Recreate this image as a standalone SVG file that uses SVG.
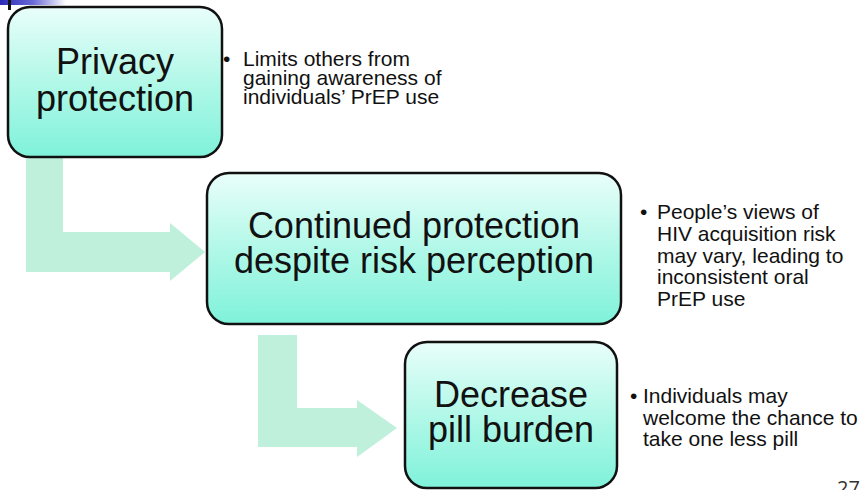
<svg xmlns="http://www.w3.org/2000/svg" width="867" height="490" viewBox="0 0 867 490">
  <defs>
    <linearGradient id="boxFill" x1="0" y1="0" x2="0" y2="1">
      <stop offset="0" stop-color="#e9fefa"/>
      <stop offset="0.5" stop-color="#b2f8e8"/>
      <stop offset="1" stop-color="#7ff2da"/>
    </linearGradient>
    <linearGradient id="cornerBar" x1="0" y1="0" x2="1" y2="0">
      <stop offset="0" stop-color="#2a2ab8"/>
      <stop offset="0.5" stop-color="#6a6ad8"/>
      <stop offset="1" stop-color="#ffffff"/>
    </linearGradient>
    <style>
      .box { fill: url(#boxFill); stroke: #111; stroke-width: 2.5; }
      .title { font-family: "Liberation Sans", Arial, sans-serif; font-size: 36px; fill: #111; text-anchor: middle; }
      .note { font-family: "Liberation Sans", Arial, sans-serif; font-size: 21px; fill: #111; }
      .flow { fill: #bff0dc; stroke: none; }
      .pageno { font-family: "Open Sans", "DejaVu Sans", sans-serif; font-size: 20px; fill: #333; }
    </style>
  </defs>

  <rect width="867" height="490" fill="#ffffff"/>

  <!-- slide corner ornament -->
  <rect x="0" y="0" width="66" height="5" fill="url(#cornerBar)"/>
  <rect x="8" y="0" width="3" height="10" fill="#111"/>

  <!-- bent flow arrows between steps -->
  <g id="connectors">
    <polygon class="flow" points="26,150 63,150 63,232 170,232 170,223 205,252 170,281 170,272 26,272"/>
    <polygon class="flow" points="258,335 297,335 297,408 357,408 357,400 397,428 357,457 357,447 258,447"/>
  </g>

  <g id="privacy">
    <rect class="box" x="8" y="7" width="214" height="150" rx="22" ry="22"/>
    <text class="title" x="115" y="74">Privacy</text>
    <text class="title" x="115" y="111">protection</text>
  </g>

  <g id="continued">
    <rect class="box" x="207" y="173" width="414" height="151" rx="22" ry="22"/>
    <text class="title" x="414" y="238">Continued protection</text>
    <text class="title" x="414" y="273">despite risk perception</text>
  </g>

  <g id="pill-burden">
    <rect class="box" x="405" y="342" width="212" height="146" rx="22" ry="22"/>
    <text class="title" x="511" y="407">Decrease</text>
    <text class="title" x="511" y="442">pill burden</text>
  </g>

  <g id="note-privacy">
    <text class="note"><tspan x="223" y="66">•</tspan><tspan x="243" y="66">Limits others from</tspan><tspan x="243" y="85">gaining awareness of</tspan><tspan x="243" y="104">individuals’ PrEP use</tspan></text>
  </g>

  <g id="note-continued">
    <text class="note"><tspan x="640" y="219">•</tspan><tspan x="657" y="219">People’s views of</tspan><tspan x="657" y="241">HIV acquisition risk</tspan><tspan x="657" y="263">may vary, leading to</tspan><tspan x="657" y="284">inconsistent oral</tspan><tspan x="657" y="306">PrEP use</tspan></text>
  </g>

  <g id="note-pill">
    <text class="note"><tspan x="630" y="403">•</tspan><tspan x="643" y="403">Individuals may</tspan><tspan x="643" y="425">welcome the chance to</tspan><tspan x="643" y="446">take one less pill</tspan></text>
  </g>

  <text class="pageno" x="837" y="495">27</text>
</svg>
